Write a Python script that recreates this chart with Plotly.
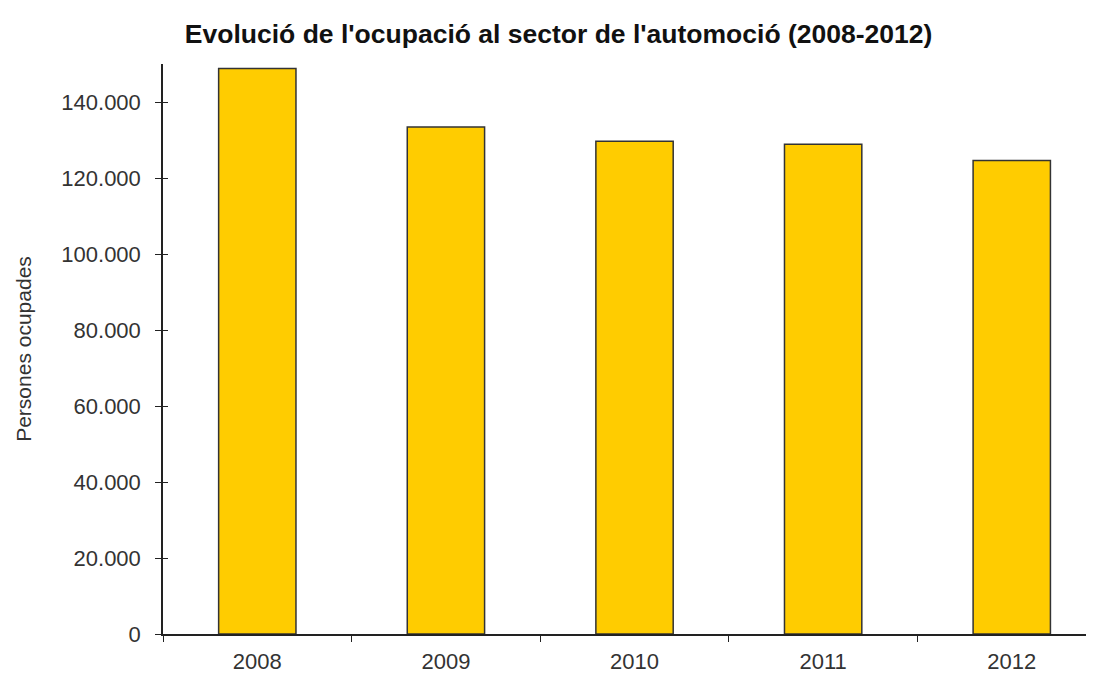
import plotly.graph_objects as go

years = ["2008", "2009", "2010", "2011", "2012"]
employed = [148800, 133400, 129700, 128900, 124600]

title_text = "Evolució de l'ocupació al sector de l'automoció (2008-2012)"
y_title = "Persones ocupades"

FONT = "Liberation Sans, Arial, sans-serif"

fig = go.Figure(
    go.Bar(
        x=years,
        y=employed,
        width=0.41,
        marker=dict(color="#FFCC00", line=dict(color="#333333", width=1.5)),
    )
)

# page body has an 8px margin, so the div is offset by (8, 8)
fig.update_layout(
    width=1086,
    height=665,
    separators=",.",
    paper_bgcolor="white",
    plot_bgcolor="white",
    margin=dict(l=155, r=0, t=56, b=39),
    showlegend=False,
    title=dict(
        text="<b>" + title_text + "</b>",
        x=0.507,
        xanchor="center",
        y=0.962,
        yanchor="middle",
        font=dict(family=FONT, size=26.5, color="#111111"),
    ),
    font=dict(family=FONT, color="#333333"),
)

fig.update_xaxes(
    type="category",
    range=[-0.5, 4.436],
    tickson="boundaries",
    ticks="outside",
    ticklen=6,
    tickcolor="#222222",
    ticklabelstandoff=7,
    showline=True,
    linecolor="#222222",
    linewidth=1.5,
    showgrid=False,
    tickfont=dict(size=22, color="#333333"),
)

fig.update_yaxes(
    range=[0, 150000],
    tickvals=[0, 20000, 40000, 60000, 80000, 100000, 120000, 140000],
    tickformat=",d",
    ticks="outside",
    ticklen=6,
    tickcolor="#222222",
    ticklabelstandoff=10,
    minor=dict(ticks="inside", ticklen=5, tickcolor="#222222",
               tickmode="linear", tick0=0, dtick=20000),
    showline=True,
    linecolor="#222222",
    linewidth=1.5,
    showgrid=False,
    zeroline=False,
    tickfont=dict(size=22, color="#333333"),
    title=dict(text=y_title, font=dict(size=21, color="#333333"), standoff=24),
)

fig.write_html("out.html")
